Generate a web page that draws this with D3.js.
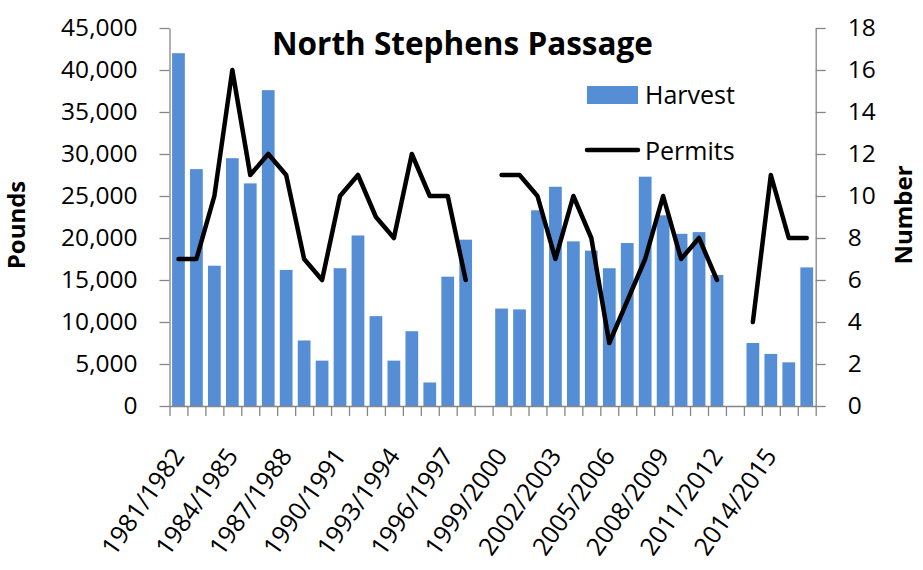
<!DOCTYPE html>
<html>
<head>
<meta charset="utf-8">
<script src="https://cdn.jsdelivr.net/npm/d3@7"></script>
<style>
  body { margin: 0; background: #fff; }
  text { font-family: 'Open Sans', sans-serif; fill: #000; }
</style>
</head>
<body>
<svg></svg>
<script>
// ----------------------------Datos--------------------------------------

let seasons = ['1981/1982','1982/1983','1983/1984','1984/1985','1985/1986','1986/1987',
  '1987/1988','1988/1989','1989/1990','1990/1991','1991/1992','1992/1993',
  '1993/1994','1994/1995','1995/1996','1996/1997','1997/1998','1998/1999',
  '1999/2000','2000/2001','2001/2002','2002/2003','2003/2004','2004/2005',
  '2005/2006','2006/2007','2007/2008','2008/2009','2009/2010','2010/2011',
  '2011/2012','2012/2013','2013/2014','2014/2015','2015/2016','2016/2017']

// libras cosechadas (null = sin dato)
let harvest = [42000, 28200, 16700, 29500, 26500, 37600, 16200, 7800, 5400, 16400,
  20300, 10700, 5400, 8900, 2800, 15400, 19800, null, 11600, 11500,
  23300, 26100, 19600, 18500, 16400, 19400, 27300, 22700, 20500, 20700,
  15600, null, 7500, 6200, 5200, 16500]

// numero de permisos
let permits = [7, 7, 10, 16, 11, 12, 11, 7, 6, 10, 11, 9, 8, 12, 10, 10, 6, null,
  11, 11, 10, 7, 10, 8, 3, 5, 7, 10, 7, 8, 6, null, 4, 11, 8, 8]

let xTickLabels = ['1981/1982','1984/1985','1987/1988','1990/1991','1993/1994',
  '1996/1997','1999/2000','2002/2003','2005/2006','2008/2009','2011/2012','2014/2015']

let poundsTicks = [0, 5000, 10000, 15000, 20000, 25000, 30000, 35000, 40000, 45000]
let numberTicks = [0, 2, 4, 6, 8, 10, 12, 14, 16, 18]

// ----------------------------Variables--------------------------------------

let width = 923
let height = 570
let plotLeft = 169.5
let plotRight = 815.7
let plotTop = 28
let plotBottom = 406
let axisColor = '#868686'
let barColor = '#558ed5'

let svg = d3.select('svg')
let xScale, boundScale, yLeft, yRight

let drawCanvas = () => {
  svg.attr('width', width)
  svg.attr('height', height)
}

let generateScales = () => {
  xScale = d3.scaleBand()
    .domain(seasons)
    .range([plotLeft, plotRight])
    .paddingInner(0.29)
    .paddingOuter(0.145)

  // escala para las marcas entre categorias
  boundScale = d3.scaleLinear()
    .domain([0, seasons.length])
    .range([plotLeft, plotRight])

  yLeft = d3.scaleLinear().domain([0, 45000]).range([plotBottom, plotTop])
  yRight = d3.scaleLinear().domain([0, 18]).range([plotBottom, plotTop])
}

let drawBars = () => {
  svg.append('g')
    .selectAll('rect')
    .data(seasons.map((s, i) => ({season: s, value: harvest[i]})).filter(d => d.value != null))
    .enter()
    .append('rect')
    .attr('x', d => xScale(d.season))
    .attr('width', xScale.bandwidth())
    .attr('y', d => yLeft(d.value))
    .attr('height', d => plotBottom - yLeft(d.value))
    .attr('fill', barColor)
}

let drawLine = () => {
  let line = d3.line()
    .defined(d => d.value != null)
    .x(d => xScale(d.season) + xScale.bandwidth() / 2)
    .y(d => yRight(d.value))

  svg.append('path')
    .datum(seasons.map((s, i) => ({season: s, value: permits[i]})))
    .attr('d', line)
    .attr('fill', 'none')
    .attr('stroke', '#000')
    .attr('stroke-width', 4.5)
    .attr('stroke-linejoin', 'round')
    .attr('stroke-linecap', 'round')
}

let styleAxis = (g) => {
  g.select('.domain').attr('stroke', axisColor).attr('stroke-width', 1.3)
  g.selectAll('.tick line').attr('stroke', axisColor).attr('stroke-width', 1.3)
  g.selectAll('.tick text').style('font-size', '24.5px').attr('fill', '#000')
}

let generateAxes = () => {
  let leftAxis = d3.axisLeft(yLeft)
    .tickValues(poundsTicks)
    .tickFormat(d3.format(','))
    .tickSize(10)
    .tickSizeOuter(0)
    .tickPadding(22)

  let rightAxis = d3.axisRight(yRight)
    .tickValues(numberTicks)
    .tickSize(10)
    .tickSizeOuter(0)
    .tickPadding(22)

  let bottomAxis = d3.axisBottom(boundScale)
    .tickValues(d3.range(seasons.length + 1))
    .tickFormat('')
    .tickSize(10)
    .tickSizeOuter(0)

  svg.append('g')
    .attr('transform', 'translate(' + plotLeft + ',0)')
    .call(leftAxis)
    .call(styleAxis)

  svg.append('g')
    .attr('transform', 'translate(' + plotRight + ',0)')
    .call(rightAxis)
    .call(styleAxis)

  svg.append('g')
    .attr('transform', 'translate(0,' + plotBottom + ')')
    .call(bottomAxis)
    .call(styleAxis)

  // etiquetas del eje x, rotadas
  svg.append('g')
    .selectAll('text')
    .data(xTickLabels)
    .enter()
    .append('text')
    .attr('transform', d => 'translate(' + (xScale(d) + xScale.bandwidth() / 2 + 7) + ',' + (plotBottom + 50) + ') rotate(-55)')
    .attr('text-anchor', 'end')
    .style('font-size', '25px')
    .text(d => d)
}

let drawLabels = () => {
  svg.append('text')
    .attr('x', 272)
    .attr('y', 55)
    .style('font-size', '31.5px')
    .style('font-weight', 'bold')
    .text('North Stephens Passage')

  svg.append('text')
    .attr('transform', 'translate(25,225) rotate(-90)')
    .attr('text-anchor', 'middle')
    .style('font-size', '24px')
    .style('font-weight', 'bold')
    .text('Pounds')

  svg.append('text')
    .attr('transform', 'translate(912,215) rotate(-90)')
    .attr('text-anchor', 'middle')
    .style('font-size', '24px')
    .style('font-weight', 'bold')
    .text('Number')

  // leyenda
  svg.append('rect')
    .attr('x', 587).attr('y', 86)
    .attr('width', 51).attr('height', 18)
    .attr('fill', barColor)
  svg.append('text')
    .attr('x', 645).attr('y', 103.5)
    .style('font-size', '25px')
    .text('Harvest')

  svg.append('line')
    .attr('x1', 587).attr('x2', 638)
    .attr('y1', 150).attr('y2', 150)
    .attr('stroke', '#000')
    .attr('stroke-width', 4.5)
    .attr('stroke-linecap', 'round')
  svg.append('text')
    .attr('x', 645).attr('y', 160)
    .style('font-size', '25px')
    .text('Permits')
}

drawCanvas()
generateScales()
drawBars()
drawLine()
generateAxes()
drawLabels()
</script>
</body>
</html>
